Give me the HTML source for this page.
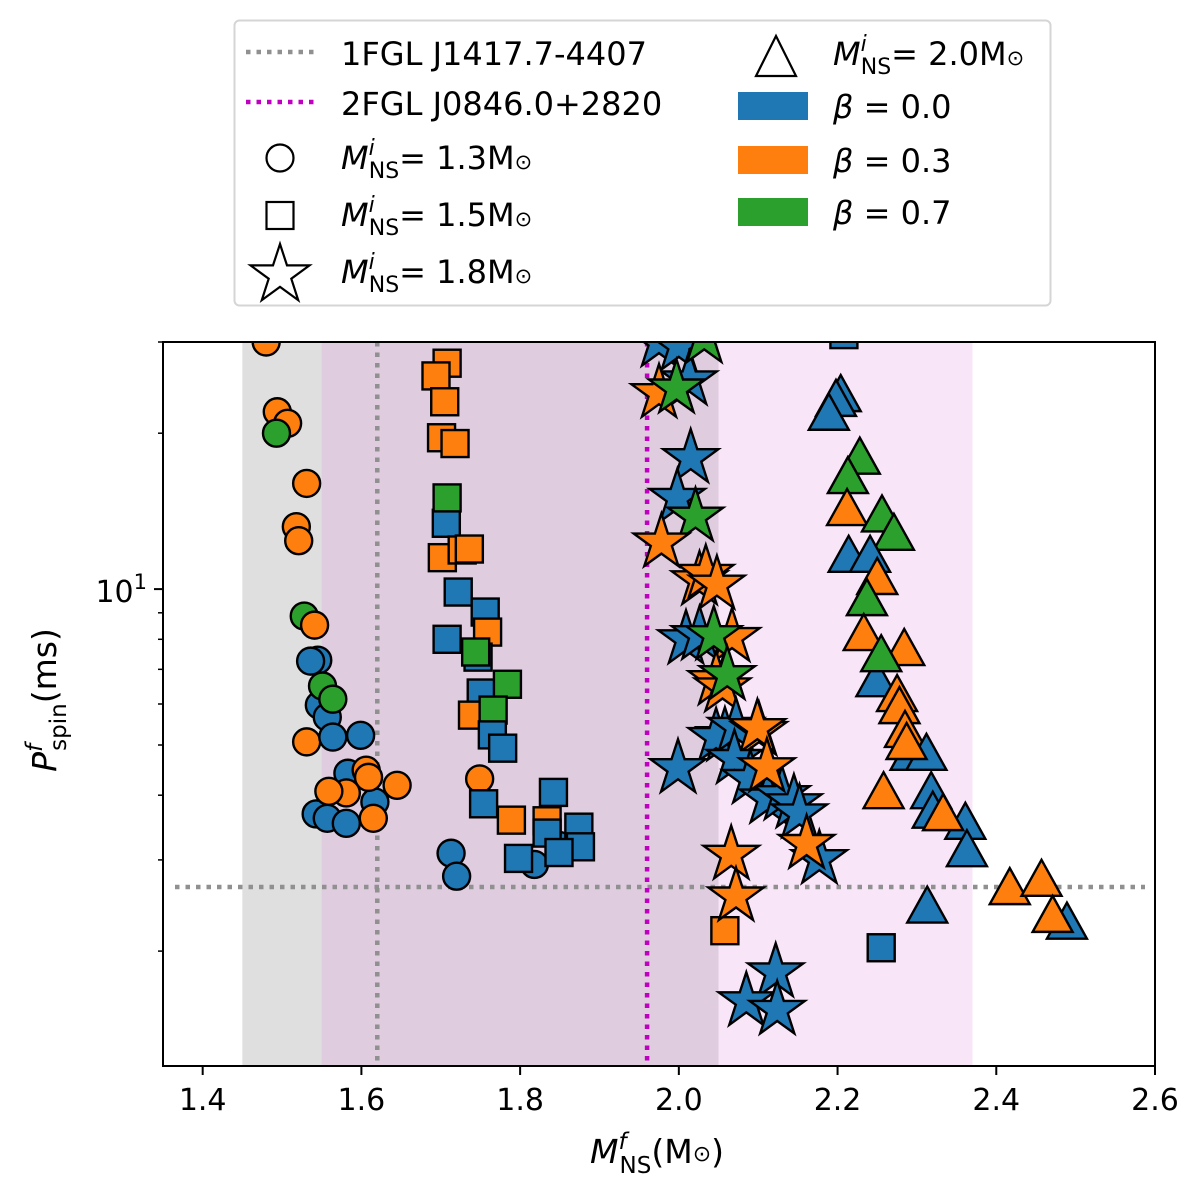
<!DOCTYPE html>
<html><head><meta charset="utf-8"><style>
html,body{margin:0;padding:0;background:#fff;}
svg{display:block;font-family:"DejaVu Sans","Liberation Sans",sans-serif;}
</style></head><body>
<svg id="chart" width="1200" height="1196" viewBox="0 0 1200 1196" xmlns="http://www.w3.org/2000/svg">
<defs><clipPath id="plotclip"><rect x="163" y="342" width="992" height="724"/></clipPath></defs>
<g id="bg"></g>
<g id="refs"></g>
<g id="marks" clip-path="url(#plotclip)"></g>
<g id="axes"></g>
<g id="legend"></g>
</svg>
<script>
const xDomain=[1.35,2.6];
const yDomain=[1.2,30];
const xTicks=[1.4,1.6,1.8,2.0,2.2,2.4,2.6];
const xTickLabels=["1.4","1.6","1.8","2.0","2.2","2.4","2.6"];
const yMinorTicks=[2,3,4,5,6,7,8,9,20,30];
const shadeGray=[1.45,2.05];
const shadePink=[1.55,2.37];
const refX1FGL=1.62, refY1FGL=2.66, refX2FGL=1.96;
const colors={b:"#1f77b4",o:"#ff7f0e",g:"#2ca02c"};
// circles Mi=1.3
const circM=[1.48,1.494,1.507,1.493,1.531,1.518,1.521,1.545,1.536,1.528,1.541,1.547,1.557,1.551,1.564,1.531,1.564,1.599,1.583,1.543,1.557,1.581,1.617,1.606,1.609,1.645,1.581,1.559,1.615,1.713,1.720,1.749,1.818,1.849];
const circP=[30,22.0,20.9,20.0,16.0,13.2,12.4,7.29,7.26,8.87,8.52,5.97,5.66,6.50,6.13,5.07,5.18,5.22,4.41,3.68,3.61,3.53,3.88,4.47,4.33,4.18,4.04,4.07,3.61,3.09,2.79,4.30,2.94,3.2];
const circC=["o","o","o","g","o","o","o","b","b","g","o","b","b","g","g","o","b","b","b","b","b","b","b","o","o","o","o","o","o","b","b","o","b","b"];
// squares Mi=1.5
const sqM=[1.708,1.694,1.705,1.701,1.718,1.707,1.702,1.727,1.736,1.722,1.708,1.756,1.759,1.747,1.744,1.751,1.740,1.784,1.766,1.765,1.778,1.754,1.789,1.842,1.834,1.874,1.876,1.834,1.798,1.849,2.255,2.058,2.208,1.708];
const sqP=[27.3,25.8,23.0,19.6,19.1,13.4,11.5,11.9,11.95,9.87,8.0,9.03,8.26,7.39,7.56,6.3,5.71,6.55,5.84,5.23,4.93,3.85,3.58,4.05,3.57,3.47,3.18,3.38,3.02,3.1,2.03,2.19,31,15.0];
const sqC=["o","o","o","o","o","b","o","o","o","b","b","b","o","b","g","b","o","g","g","b","b","b","o","b","o","b","b","b","b","b","b","o","b","g"];
// stars Mi=1.8
const stM=[1.975,2.0,2.013,2.032,1.975,1.997,2.015,1.998,2.021,1.978,2.026,2.034,2.048,2.009,2.026,2.067,2.044,2.047,2.055,2.061,2.058,2.047,1.999,2.072,2.101,2.099,2.070,2.090,2.112,2.130,2.145,2.152,2.111,2.177,2.161,2.066,2.072,2.122,2.085,2.124];
const stP=[30,29.5,25.3,30.5,23.9,24.4,17.9,15.0,13.8,12.3,10.4,10.7,10.2,8.0,8.15,8.08,8.15,6.67,6.46,6.82,5.2,5.18,4.51,5.42,5.32,5.39,4.7,4.3,3.94,4.0,3.86,3.69,4.53,3.01,3.22,3.07,2.55,1.82,1.6,1.54];
const stC=["b","b","b","g","o","g","b","b","g","o","o","o","o","b","b","o","g","o","o","g","b","b","b","b","o","o","b","b","b","b","b","b","o","b","o","o","o","b","b","b"];
// triangles Mi=2.0
const trM=[2.204,2.198,2.189,2.228,2.213,2.212,2.256,2.271,2.214,2.241,2.25,2.237,2.233,2.249,2.284,2.255,2.275,2.278,2.285,2.292,2.312,2.287,2.258,2.318,2.320,2.361,2.333,2.363,2.313,2.417,2.457,2.489,2.471];
const trP=[23.9,23.4,22.0,18.1,16.6,14.4,14.0,12.9,11.7,11.7,10.6,9.65,8.26,6.73,7.73,7.52,6.3,5.97,5.37,4.85,4.85,5.09,4.09,4.09,3.75,3.57,3.71,3.16,2.46,2.67,2.77,2.29,2.36];
const trC=["b","b","b","g","g","o","g","g","b","b","o","g","o","b","o","g","o","o","o","b","b","o","o","b","b","b","o","b","b","o","o","b","o"];

const L=163,R=1155,T=342,B=1066;
const X=m=>L+(m-xDomain[0])/(xDomain[1]-xDomain[0])*(R-L);
const Y=p=>B-(Math.log10(p)-Math.log10(yDomain[0]))/(Math.log10(yDomain[1])-Math.log10(yDomain[0]))*(B-T);
const NS="http://www.w3.org/2000/svg";
function mk(tag,attrs,parent){const e=document.createElementNS(NS,tag);for(const k in attrs)e.setAttribute(k,attrs[k]);parent.appendChild(e);return e;}
const bg=document.getElementById('bg'),refs=document.getElementById('refs'),marks=document.getElementById('marks'),axes=document.getElementById('axes'),lg=document.getElementById('legend');

let r=mk('rect',{x:X(shadeGray[0]),y:T,width:X(shadeGray[1])-X(shadeGray[0]),height:B-T,fill:"#808080","fill-opacity":0.25},bg);


r=mk('rect',{x:X(shadePink[0]),y:T,width:X(shadePink[1])-X(shadePink[0]),height:B-T,fill:"#dd88dd","fill-opacity":0.22},bg);



const dash={"stroke-width":4.5,"stroke-dasharray":"4.5 6"};
let ln=mk('line',Object.assign({x1:X(refX1FGL),x2:X(refX1FGL),y1:T,y2:B,stroke:"#909090"},dash),refs);


ln=mk('line',Object.assign({x1:L+12,x2:R-10,y1:Y(refY1FGL),y2:Y(refY1FGL),stroke:"#909090"},dash),refs);


ln=mk('line',Object.assign({x1:X(refX2FGL),x2:X(refX2FGL),y1:T,y2:B,stroke:"#c000c0"},dash),refs);



function starPath(cx,cy,ro){let ri=ro*0.382,d="";for(let i=0;i<10;i++){const a=-Math.PI/2+i*Math.PI/5,rr=i%2?ri:ro;d+=(i?"L":"M")+(cx+rr*Math.cos(a)).toFixed(1)+","+(cy+rr*Math.sin(a)).toFixed(1);}return d+"Z";}
function triPath(cx,cy,w,h){return `M${cx},${cy-h}L${cx-w},${cy+h}L${cx+w},${cy+h}Z`;}
const st={stroke:"#000","stroke-width":2.4,"stroke-linejoin":"miter"};

circM.forEach((m,i)=>{const e=mk('circle',Object.assign({cx:X(m),cy:Y(circP[i]),r:13.5,fill:colors[circC[i]]},st),marks);

});
sqM.forEach((m,i)=>{const e=mk('rect',Object.assign({x:X(m)-13.5,y:Y(sqP[i])-13.5,width:27,height:27,fill:colors[sqC[i]]},st),marks);

});
stM.forEach((m,i)=>{const e=mk('path',Object.assign({d:starPath(X(m),Y(stP[i]),29),fill:colors[stC[i]]},st),marks);

});
trM.forEach((m,i)=>{const e=mk('path',Object.assign({d:triPath(X(m),Y(trP[i]),20,18),fill:colors[trC[i]]},st),marks);

});

let fr=mk('rect',{x:L,y:T,width:R-L,height:B-T,fill:"none",stroke:"#000","stroke-width":2},axes);


xTicks.forEach((v,i)=>{let t=mk('line',{x1:X(v),x2:X(v),y1:B,y2:B+9,stroke:"#000","stroke-width":2},axes);


let tx=mk('text',{x:X(v),y:B+44,"font-size":30,"text-anchor":"middle",fill:"#000"},axes);tx.textContent=xTickLabels[i];

});
let mj=mk('line',{x1:L-9,x2:L,y1:Y(10),y2:Y(10),stroke:"#000","stroke-width":2},axes);


let yl=mk('text',{x:L-16,y:Y(10)+13,"font-size":30,"text-anchor":"end",fill:"#000"},axes);
yl.innerHTML='10<tspan dy="-13" font-size="21">1</tspan>';


yMinorTicks.forEach(v=>{let t=mk('line',{x1:L-5,x2:L,y1:Y(v),y2:Y(v),stroke:"#000","stroke-width":1.5},axes);

});
let xt=mk('text',{x:657,y:1163,"font-size":33,"text-anchor":"middle",fill:"#000"},axes);
xt.innerHTML='<tspan font-style="italic">M</tspan><tspan dy="-14" font-size="23" font-style="italic">f</tspan><tspan dy="24" dx="-7" font-size="23">NS</tspan><tspan dy="-10">(M</tspan><tspan font-size="22" dy="-2">⊙</tspan><tspan dy="2">)</tspan>';


let ytl=mk('text',{x:0,y:0,"font-size":33,"text-anchor":"middle",fill:"#000",transform:"translate(56,700) rotate(-90)"},axes);
ytl.innerHTML='<tspan font-style="italic">P</tspan><tspan dy="-14" font-size="23" font-style="italic">f</tspan><tspan dy="24" dx="-7" font-size="23">spin</tspan><tspan dy="-10">(ms)</tspan>';



let box=mk('rect',{x:234.5,y:20.5,width:816,height:285,rx:5,fill:"#fff",stroke:"#d5d5d5","stroke-width":2},lg);


function ltext(x,y,html,name){let t=mk('text',{x:x,y:y,"font-size":32,fill:"#000"},lg);t.innerHTML=html;

}
const mns=v=>`<tspan font-style="italic">M</tspan><tspan dy="-14" font-size="22" font-style="italic">i</tspan><tspan dy="23" dx="-6" font-size="22">NS</tspan><tspan dy="-9">=${v}M</tspan><tspan font-size="21">⊙</tspan>`;
let l1=mk('line',Object.assign({x1:246,x2:314,y1:52,y2:52,stroke:"#909090"},dash),lg);


ltext(341,65,'1FGL J1417.7-4407','legend-1fgl-label');
let l2=mk('line',Object.assign({x1:246,x2:314,y1:102,y2:102,stroke:"#c000c0"},dash),lg);


ltext(341,115,'2FGL J0846.0+2820','legend-2fgl-label');
let c1=mk('circle',{cx:280,cy:158,r:13.5,fill:"none",stroke:"#000","stroke-width":2.2},lg);


ltext(341,169,mns(' 1.3'),'legend-13-label');
let s1=mk('rect',{x:266.5,y:202,width:27,height:27,fill:"none",stroke:"#000","stroke-width":2.2},lg);


ltext(341,226,mns(' 1.5'),'legend-15-label');
let p1=mk('path',{d:starPath(280,275,31),fill:"none",stroke:"#000","stroke-width":2.2},lg);


ltext(341,283,mns(' 1.8'),'legend-18-label');
let t1=mk('path',{d:triPath(776,56,20,20),fill:"none",stroke:"#000","stroke-width":2.2},lg);


ltext(833,65,mns(' 2.0'),'legend-20-label');
[["b","0.0",106],["o","0.3",160],["g","0.7",212]].forEach(([c,v,y])=>{
let pr=mk('rect',{x:738,y:y-14,width:70,height:28,fill:colors[c]},lg);


ltext(833,y+12,`<tspan font-style="italic">β</tspan> = ${v}`,'legend-beta-label');});
</script>
</body></html>
